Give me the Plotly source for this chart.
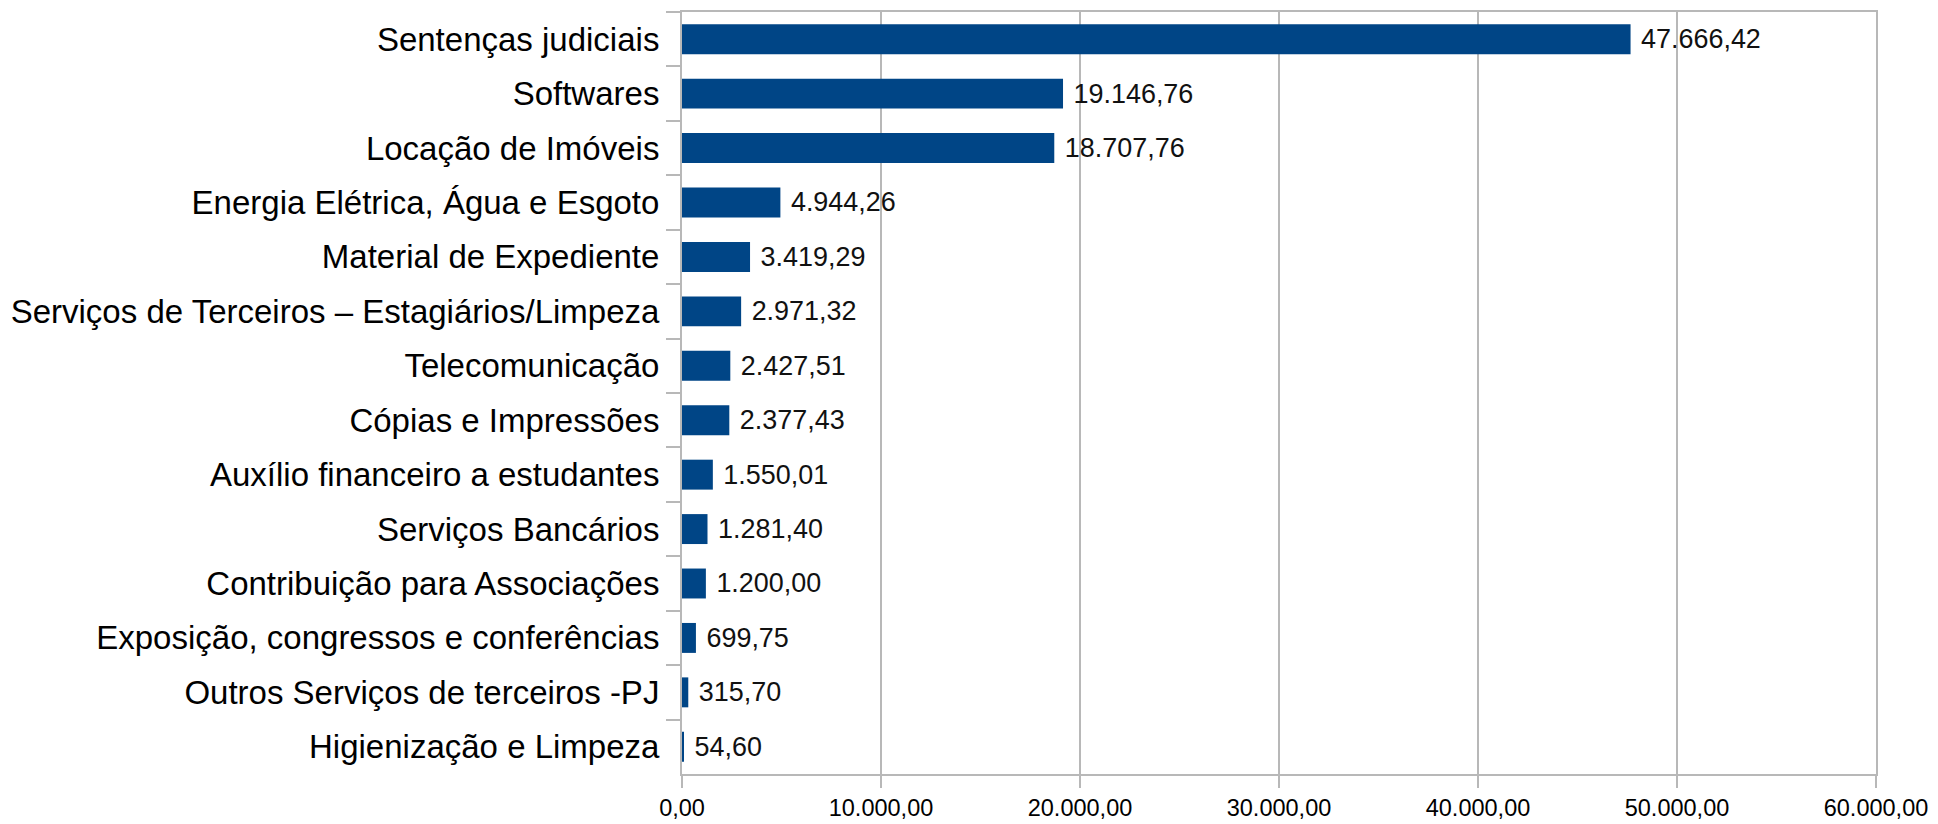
import plotly.graph_objects as go

categories = [
    "Sentenças judiciais",
    "Softwares",
    "Locação de Imóveis",
    "Energia Elétrica, Água e Esgoto",
    "Material de Expediente",
    "Serviços de Terceiros – Estagiários/Limpeza",
    "Telecomunicação",
    "Cópias e Impressões",
    "Auxílio financeiro a estudantes",
    "Serviços Bancários",
    "Contribuição para Associações",
    "Exposição, congressos e conferências",
    "Outros Serviços de terceiros -PJ",
    "Higienização e Limpeza",
]
values = [47666.42, 19146.76, 18707.76, 4944.26, 3419.29, 2971.32, 2427.51,
          2377.43, 1550.01, 1281.40, 1200.00, 699.75, 315.70, 54.60]
x_ticks = [0, 10000, 20000, 30000, 40000, 50000, 60000]

FONT = "Liberation Sans, Arial, sans-serif"
GRID = "#b8b8b8"

fig = go.Figure(go.Bar(
    x=values, y=categories, orientation="h",
    marker=dict(color="#004586", line=dict(width=0)),
    texttemplate=" %{x:,.2f}", textposition="outside",
    textfont=dict(family=FONT, size=27, color="#111111"),
    cliponaxis=False,
))

# page body has an 8px default margin, so the figure is offset by (8, 8)
fig.update_layout(
    width=1930, height=816,
    margin=dict(l=674, r=62, t=4, b=50),
    plot_bgcolor="white", paper_bgcolor="white",
    separators=",.",
    bargap=0.45,
    showlegend=False,
    font=dict(family=FONT, color="#000000"),
)
fig.update_xaxes(
    range=[0, 60000], tickvals=x_ticks, tickformat=",.2f",
    showgrid=True, gridcolor=GRID, gridwidth=2,
    showline=True, linecolor=GRID, linewidth=2, mirror=True,
    ticks="outside", ticklen=12, tickcolor=GRID, tickwidth=2,
    tickfont=dict(family=FONT, size=23.5, color="#000000"),
    zeroline=False, fixedrange=True, automargin=False,
)
fig.update_yaxes(
    autorange="reversed", type="category",
    showline=True, linecolor=GRID, linewidth=2, mirror=True,
    ticks="outside", ticklen=14, tickcolor=GRID, tickwidth=2,
    tickson="boundaries", ticklabelstandoff=14,
    tickfont=dict(family=FONT, size=33, color="#000000"),
    showgrid=False, fixedrange=True, automargin=False,
)

fig.write_html("out.html")
